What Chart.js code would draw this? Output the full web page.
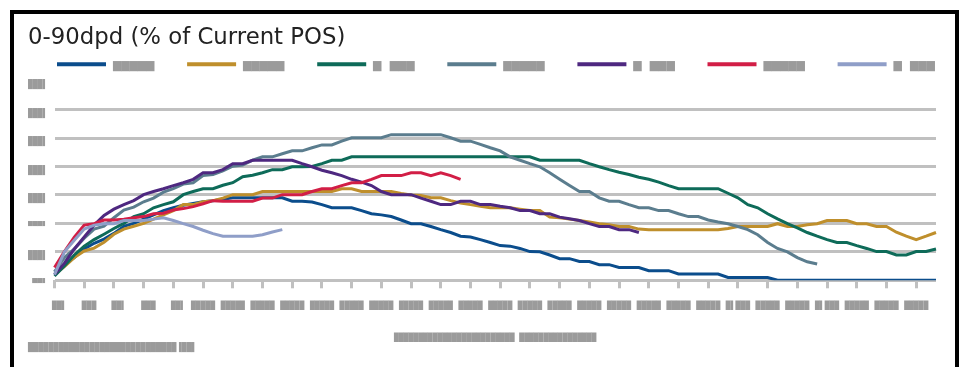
<!DOCTYPE html>
<html><head><meta charset="utf-8">
<script src="https://cdn.jsdelivr.net/npm/chart.js@4.4.1/dist/chart.umd.min.js"></script>
<style>
html,body{margin:0;padding:0;background:#fff;overflow:hidden;}
#frame{position:absolute;left:10px;top:10px;width:941px;height:400px;border:4px solid #000;}
#c{position:absolute;left:0;top:0;}
</style></head><body>
<div id="frame"><canvas id="c" width="941" height="353"></canvas></div>
<script>
// ---- text (labels are redacted in the source, kept as block glyphs) ----
const chartTitle = '0-90dpd (% of Current POS)';
const seriesLabels = ['▅▅▅▅▅   ','▅▅▅▅▅   ','▅ ▅▅▅   ','▅▅▅▅▅   ','▅ ▅▅▅   ','▅▅▅▅▅   ','▅ ▅▅▅'];
const seriesColors = ['#0b4d8c','#bf8f2c','#0e6b59','#5b7d8e','#4e2880','#d21e46','#8f9ec8'];
const xTickLabels = ['  ██▌','  ███','  ██▌','  ███','  ██▌','█████','█████','█████','█████','█████',
  '█████','█████','█████','█████','█████','█████','█████','█████','█████','█████',
  '█████','█████','█████','█▌███','█████','█████','█▌███','█████','█████','█████'];
const yTickLabels = ['▀▀▘','████▌','▀▀▀▀▘','████▌','████▌','████▌','████▌','████▌'];
const xAxisTitle = '█'.repeat(25) + ' ' + '█'.repeat(16);
const footnoteText = '█'.repeat(29) + '▐██▌';
const categories = Array.from({length: 90}, (_, i) => String(i + 1));

// ---- series values (grid units) ----
const s1 = [0.3,0.55,0.8,1.1,1.3,1.45,1.65,1.9,2.0,2.15, 2.3,2.45,2.55,2.64,2.7,2.76,2.8,2.85,2.9,2.9,
  2.9,2.9,2.9,2.9,2.78,2.78,2.75,2.66,2.55,2.55, 2.55,2.45,2.34,2.3,2.24,2.12,1.99,1.99,1.89,1.78,
  1.68,1.55,1.52,1.43,1.33,1.22,1.2,1.12,1.01,1.0, 0.89,0.76,0.76,0.66,0.66,0.55,0.55,0.45,0.45,0.45,
  0.34,0.34,0.34,0.22,0.22,0.22,0.22,0.22,0.1,0.1, 0.1,0.1,0.1,0,0,0,0,0,0,0, 0,0,0,0,0,0,0,0,0,0];
const s2 = [0.2,0.48,0.8,1.03,1.13,1.34,1.62,1.8,1.9,2.0, 2.15,2.3,2.45,2.66,2.66,2.76,2.8,2.89,3.01,3.01,
  3.01,3.12,3.12,3.12,3.12,3.12,3.12,3.12,3.12,3.22, 3.22,3.12,3.12,3.12,3.12,3.05,3.0,2.98,2.9,2.9,
  2.8,2.72,2.66,2.6,2.55,2.55,2.55,2.5,2.45,2.45, 2.22,2.2,2.15,2.1,2.05,1.99,1.95,1.89,1.89,1.8,
  1.78,1.78,1.78,1.78,1.78,1.78,1.78,1.78,1.82,1.89, 1.89,1.89,1.89,1.99,1.89,1.89,1.95,1.99,2.1,2.1,
  2.1,1.99,1.99,1.89,1.89,1.69,1.55,1.43,1.55,1.68];
const s3 = [0.15,0.5,0.89,1.2,1.43,1.62,1.82,2.0,2.24,2.34, 2.55,2.66,2.76,3.01,3.12,3.22,3.22,3.34,3.43,3.64,
  3.69,3.78,3.89,3.89,3.99,3.99,4.0,4.1,4.22,4.22, 4.34,4.34,4.34,4.34,4.34,4.34,4.34,4.34,4.34,4.34,
  4.34,4.34,4.34,4.34,4.34,4.34,4.34,4.34,4.34,4.22, 4.22,4.22,4.22,4.22,4.1,3.99,3.89,3.8,3.72,3.62,
  3.55,3.45,3.33,3.22,3.22,3.22,3.22,3.22,3.06,2.9, 2.66,2.55,2.34,2.16,1.99,1.84,1.68,1.55,1.43,1.33,
  1.33,1.22,1.12,1.01,1.01,0.89,0.89,1.01,1.01,1.1];
const s4 = [0.3,0.8,1.1,1.48,1.8,1.9,2.2,2.47,2.57,2.76, 2.89,3.1,3.22,3.38,3.43,3.68,3.72,3.85,4.01,4.05,
  4.22,4.34,4.34,4.45,4.55,4.55,4.66,4.76,4.76,4.89, 5.01,5.01,5.01,5.01,5.12,5.12,5.12,5.12,5.12,5.12,
  5.01,4.89,4.89,4.78,4.66,4.55,4.34,4.22,4.1,3.99, 3.78,3.55,3.33,3.12,3.12,2.9,2.78,2.78,2.66,2.55,
  2.55,2.45,2.45,2.34,2.24,2.24,2.12,2.05,1.99,1.89, 1.78,1.6,1.33,1.12,1.0,0.8,0.65,0.57];
const s5 = [0.2,0.6,1.1,1.52,1.94,2.28,2.5,2.66,2.8,3.01, 3.12,3.22,3.33,3.43,3.55,3.78,3.78,3.89,4.1,4.1,
  4.22,4.22,4.22,4.22,4.22,4.1,3.99,3.87,3.78,3.68, 3.55,3.45,3.33,3.12,3.01,3.01,3.01,2.89,2.78,2.66,
  2.66,2.78,2.78,2.66,2.66,2.6,2.55,2.45,2.45,2.34, 2.34,2.22,2.16,2.1,1.99,1.89,1.89,1.78,1.78,1.68];
const s6 = [0.45,1.01,1.52,1.94,1.99,2.12,2.12,2.15,2.2,2.24, 2.34,2.36,2.47,2.52,2.59,2.69,2.8,2.78,2.78,2.78,
  2.78,2.89,2.89,3.01,3.01,3.01,3.12,3.22,3.22,3.33, 3.43,3.43,3.55,3.68,3.68,3.68,3.78,3.78,3.68,3.78,
  3.68,3.55];
const s7 = [0.2,1.0,1.41,1.8,1.94,1.99,1.99,2.1,2.1,2.1, 2.15,2.2,2.1,1.99,1.89,1.76,1.64,1.55,1.55,1.55,
  1.55,1.6,1.7,1.78];
const seriesData = [s1, s2, s3, s4, s5, s6, s7];

const LEGEND_START_X = 43;
const legendShift = {
  id: 'legendShift',
  afterUpdate(chart) {
    const lg = chart.legend;
    if (!lg || !lg.legendHitBoxes || !lg.legendHitBoxes.length) return;
    const dx = LEGEND_START_X - lg.legendHitBoxes[0].left;
    lg.left += dx; lg.right += dx;
    lg.legendHitBoxes.forEach(h => { h.left += dx; });
  }
};

const grey = '#9b9b9b';
const gridGrey = '#c0c0c0';
const clear = 'rgba(0,0,0,0)';

new Chart(document.getElementById('c'), {
  type: 'line',
  data: {
    labels: categories,
    datasets: seriesData.map((d, k) => ({
      label: seriesLabels[k],
      data: d,
      borderColor: seriesColors[k],
      backgroundColor: seriesColors[k],
      borderWidth: 3,
      pointRadius: 0,
      pointHoverRadius: 0,
      tension: 0,
      fill: false,
      order: 6 - k
    }))
  },
  options: {
    responsive: false,
    animation: false,
    devicePixelRatio: 1,
    events: [],
    layout: { padding: { left: 14, right: 19, top: 0, bottom: 14.5 } },
    plugins: {
      title: {
        display: true, text: chartTitle, align: 'start', color: '#222',
        font: { family: 'DejaVu Sans', size: 22.8, weight: 'normal', lineHeight: 1 },
        padding: { top: 12.6, bottom: 0 }
      },
      legend: {
        display: true, position: 'top', align: 'center',
        labels: {
          boxWidth: 49, boxHeight: 4, padding: 8, color: grey,
          font: { family: 'DejaVu Sans Mono', size: 13.75 },
          sort: (a, b) => a.datasetIndex - b.datasetIndex,
          generateLabels: chart => chart.data.datasets.map((d, i) => ({
            text: d.label, fillStyle: d.borderColor, strokeStyle: d.borderColor,
            lineWidth: 0, hidden: false, datasetIndex: i, fontColor: grey
          }))
        }
      },
      subtitle: {
        display: true, position: 'bottom', align: 'start', text: footnoteText, color: grey,
        font: { family: 'DejaVu Sans Mono', size: 8.5, lineHeight: 1.2 },
        padding: { top: 0, bottom: 0 }
      },
      tooltip: { enabled: false }
    },
    scales: {
      x: {
        type: 'category', offset: false,
        border: { display: false },
        grid: {
          drawOnChartArea: false, drawTicks: true, tickLength: 8, tickWidth: 3, lineWidth: 3,
          color: ctx => (ctx.index % 3 === 0 ? gridGrey : clear),
          tickColor: ctx => (ctx.index % 3 === 0 ? gridGrey : clear)
        },
        ticks: {
          autoSkip: false, maxRotation: 0, minRotation: 0, padding: 12.4, color: grey,
          font: { family: 'DejaVu Sans Mono', size: 8 },
          callback: (v, i) => (i % 3 === 0 ? xTickLabels[i / 3] : '')
        },
        title: {
          display: true, text: xAxisTitle, color: grey,
          font: { family: 'DejaVu Sans Mono', size: 8 }, padding: { top: 0, bottom: 0 }
        },
        afterFit: s => { s.height = 62; }
      },
      y: {
        type: 'linear', min: 0, max: 7,
        border: { display: false },
        grid: {
          lineWidth: 3, drawTicks: false,
          color: ctx => (ctx.tick && ctx.tick.value === 7 ? clear : gridGrey)
        },
        ticks: {
          stepSize: 1, padding: 7, labelOffset: 3.8, color: grey,
          font: { family: 'DejaVu Sans Mono', size: 8.5 },
          callback: v => (yTickLabels[v] !== undefined ? yTickLabels[v] : '')
        },
        afterFit: s => { s.width = 26.5; }
      }
    }
  },
  plugins: [legendShift]
});
</script>
</body></html>
